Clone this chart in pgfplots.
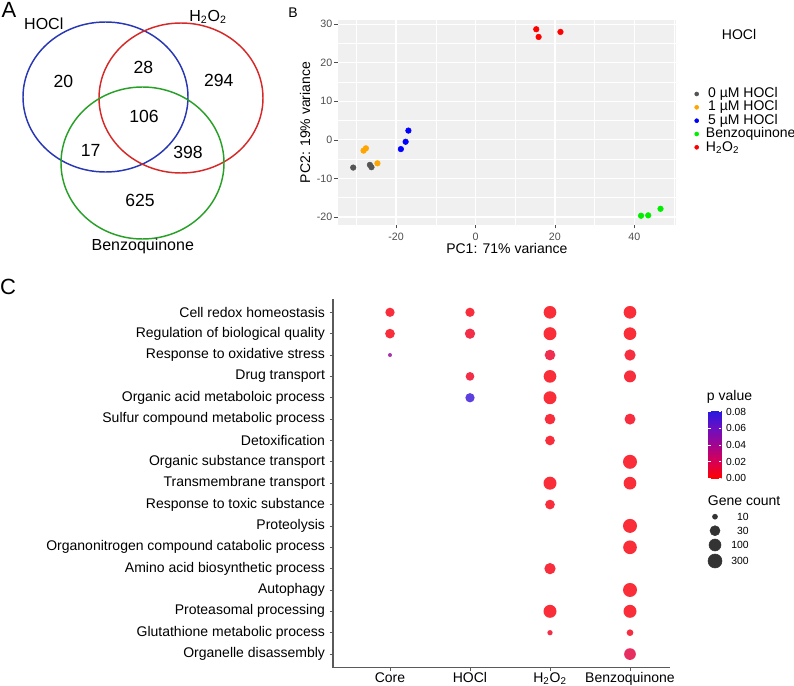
\documentclass[border=0pt]{standalone}
\usepackage{fontspec}
\setmainfont{Liberation Sans}
\usepackage{pgfplots}
\pgfplotsset{compat=1.18}
\usepackage{pgfplotstable}

\definecolor{vblue}{RGB}{40,55,180}
\definecolor{vred}{RGB}{215,40,40}
\definecolor{vgreen}{RGB}{40,160,40}
\definecolor{panelbg}{RGB}{240,240,240}
\definecolor{tickgrey}{RGB}{77,77,77}
\definecolor{pcagrey}{RGB}{85,85,85}
\definecolor{pcaorange}{RGB}{255,165,0}
\definecolor{pcagreen}{RGB}{0,238,0}
\definecolor{axisgrey}{RGB}{90,90,90}

\pgfplotsset{
  /pgf/number format/assume math mode=true,
  colormap={pval}{rgb255(0cm)=(255,0,0) rgb255(1cm)=(215,0,85) rgb255(2cm)=(160,5,145) rgb255(3cm)=(105,15,195) rgb255(4cm)=(35,25,225)},
}

% GO terms: x = group (1 Core, 2 HOCl, 3 H2O2, 4 Benzoquinone), y = 18 - row, p value, dot diameter (px)
\pgfplotstableread{
x y p d
1 17 0.004 9.3
1 16 0.004 9.7
1 15 0.045 4.0
2 17 0.004 9.3
2 16 0.008 10.3
2 14 0.008 8.7
2 13 0.075 9.3
3 17 0.003 12.7
3 16 0.003 13.0
3 15 0.010 10.7
3 14 0.003 12.7
3 13 0.003 13.0
3 12 0.004 10.7
3 11 0.004 9.7
3 9 0.003 13.0
3 8 0.004 9.7
3 5 0.004 11.3
3 3 0.003 13.0
3 2 0.008 5.3
4 17 0.003 12.7
4 16 0.003 12.7
4 15 0.005 11.3
4 14 0.004 12.0
4 12 0.005 11.0
4 10 0.003 14.0
4 9 0.003 12.7
4 7 0.003 14.0
4 6 0.003 13.7
4 4 0.003 14.0
4 3 0.003 13.0
4 2 0.006 6.7
4 1 0.015 11.7
}\godots

\begin{document}
\begin{tikzpicture}
% ---------- canvas in pixel units (A, legends, letters) ----------
\begin{axis}[name=canvas, at={(0,0)}, anchor=south west, scale only axis,
  width=595.5pt, height=514.5pt,
  xmin=0, xmax=794, ymin=0, ymax=686, y dir=reverse,
  hide axis, clip=false]
  % Venn
  \draw[vblue, line width=1.1pt] (105.5,97) ellipse [x radius=82.5, y radius=75];
  \draw[vred, line width=1.1pt] (181,98) ellipse [x radius=82, y radius=75];
  \draw[vgreen, line width=1.1pt] (142.5,163) ellipse [x radius=81.5, y radius=76];
  \begin{scope}[every node/.style={inner sep=0, font=\fontsize{13.2}{14}\selectfont}]
    \node at (63.3,81) {20};
    \node at (143.3,67.7) {28};
    \node at (218.7,80) {294};
    \node at (144,116.7) {106};
    \node at (90.7,150.7) {17};
    \node at (188,152.7) {398};
    \node at (140,200) {625};
  \end{scope}
  \begin{scope}[every node/.style={inner sep=0, font=\fontsize{12}{13}\selectfont}]
    \node at (43.8,23.3) {HOCl};
    \node at (208,16.7) {H\textsubscript{2}O\textsubscript{2}};
    \node at (142.8,246.7) {Benzoquinone};
  \end{scope}
  % panel letters
  \node[inner sep=0, font=\fontsize{16.5}{18}\selectfont] at (9,10) {A};
  \node[inner sep=0, font=\fontsize{10.5}{12}\selectfont] at (293,12.7) {B};
  \node[inner sep=0, font=\fontsize{16.5}{18}\selectfont] at (8,286.7) {C};
  % PCA legend
  \node[inner sep=0, anchor=west, font=\fontsize{10.5}{12}\selectfont] at (721.7,34) {HOCl};
  \addplot[only marks, mark=*, mark size=1.5pt, pcagrey] coordinates {(696.7,94)};
  \addplot[only marks, mark=*, mark size=1.5pt, pcaorange] coordinates {(696.7,107.3)};
  \addplot[only marks, mark=*, mark size=1.5pt, blue] coordinates {(696.7,120.7)};
  \addplot[only marks, mark=*, mark size=1.5pt, pcagreen] coordinates {(696.7,134)};
  \addplot[only marks, mark=*, mark size=1.5pt, red] coordinates {(696.7,147.3)};
  \begin{scope}[every node/.style={inner sep=0, anchor=west, font=\fontsize{10.5}{12}\selectfont}]
    \node at (704,94) {\ 0 µM HOCl};
    \node at (704,107.3) {\ 1 µM HOCl};
    \node at (704,120.7) {\ 5 µM HOCl};
    \node at (705.7,134) {Benzoquinone};
    \node at (705.7,147.3) {H\textsubscript{2}O\textsubscript{2}};
  \end{scope}
  % panel C legends
  \node[inner sep=0, anchor=west, font=\fontsize{10.5}{12}\selectfont] at (706.7,396.7) {p value};
  \node[inner sep=0, anchor=west, font=\fontsize{10.5}{12}\selectfont] at (707.7,501) {Gene count};
  \addplot[only marks, mark=*, mark size=1.9pt, black!80] coordinates {(715,516.7)};
  \addplot[only marks, mark=*, mark size=3.75pt, black!80] coordinates {(715,530.7)};
  \addplot[only marks, mark=*, mark size=4.5pt, black!80] coordinates {(715,545)};
  \addplot[only marks, mark=*, mark size=5.25pt, black!80] coordinates {(715,561)};
  \begin{scope}[every node/.style={inner sep=0, anchor=east, font=\fontsize{7.8}{9}\selectfont}]
    \node at (749,516.7) {10};
    \node at (749,530.7) {30};
    \node at (749,545) {100};
    \node at (749,561) {300};
  \end{scope}
\end{axis}

% ---------- B: PCA ----------
\begin{axis}[at={(253.3pt,345.75pt)}, anchor=south west, scale only axis,
  width=253.7pt, height=153.75pt,
  xmin=-34.7, xmax=50.5, ymin=-22.1, ymax=31.1,
  axis background/.style={fill=panelbg},
  axis line style={draw=none},
  xtick={-20,0,20,40}, ytick={-20,-10,0,10,20,30},
  minor xtick={-30,-10,10,30,50}, minor ytick={-15,-5,5,15,25},
  grid=both, major grid style={white, line width=0.9pt}, minor grid style={white, line width=0.45pt},
  tick align=outside, tick pos=left, major tick length=2.6pt, minor tick length=0pt,
  major tick style={tickgrey, line width=0.5pt},
  ticklabel style={font=\fontsize{8}{9}\selectfont, text=tickgrey},
  yticklabel shift=-2pt,
  xlabel={PC1: 71\% variance}, ylabel={PC2: 19\% variance},
  xlabel shift=-5pt, ylabel shift=-2pt,
  label style={font=\fontsize{10.5}{12}\selectfont},
]
  \addplot[only marks, mark=*, mark size=2.1pt, pcagrey] coordinates {(-30.8,-7.2) (-26.6,-6.5) (-26.2,-7.1)};
  \addplot[only marks, mark=*, mark size=2.1pt, pcaorange] coordinates {(-28.2,-2.8) (-27.6,-2.2) (-24.7,-6.1)};
  \addplot[only marks, mark=*, mark size=2.1pt, blue] coordinates {(-18.8,-2.4) (-17.6,-0.5) (-16.9,2.4)};
  \addplot[only marks, mark=*, mark size=2.1pt, red] coordinates {(15.3,28.7) (15.9,26.7) (21.4,28.0)};
  \addplot[only marks, mark=*, mark size=2.1pt, pcagreen] coordinates {(41.7,-19.7) (43.5,-19.6) (46.6,-17.9)};
\end{axis}

% ---------- C: GO dot plot ----------
\begin{axis}[at={(249.75pt,13.7pt)}, anchor=south west, scale only axis,
  width=252.75pt, height=276.5pt,
  xmin=0.2875, xmax=4.5, ymin=0.36, ymax=17.62,
  axis x line*=bottom, axis y line*=left,
  axis line style={draw=axisgrey, line width=0.8pt},
  xtick={1,2,3,4},
  xticklabels={Core,HOCl,H\textsubscript{2}O\textsubscript{2},Benzoquinone},
  ytick={1,...,17},
  yticklabels={Organelle disassembly,Glutathione metabolic process,Proteasomal processing,Autophagy,Amino acid biosynthetic process,Organonitrogen compound catabolic process,Proteolysis,Response to toxic substance,Transmembrane transport,Organic substance transport,Detoxification,Sulfur compound metabolic process,Organic acid metaboloic process,Drug transport,Response to oxidative stress,Regulation of biological quality,Cell redox homeostasis},
  tick align=outside, major tick length=2.5pt,
  major tick style={axisgrey, line width=0.5pt},
  ticklabel style={font=\fontsize{10.5}{12}\selectfont},
  xticklabel shift=-2.5pt,
  colormap name=pval, point meta min=0, point meta max=0.082,
  colorbar,
  colorbar style={
    at={(parent axis.south east)}, anchor=south west,
    xshift=20pt, yshift=142pt,
    width=10pt, height=51.2pt,
    ytick={0,0.02,0.04,0.06,0.08},
    scaled y ticks=false,
    /pgf/number format/fixed, /pgf/number format/fixed zerofill, /pgf/number format/precision=2,
    yticklabel style={font=\fontsize{7.7}{9}\selectfont},
    axis line style={draw=none},
    tick align=inside, major tick length=2pt,
    major tick style={white, line width=0.5pt},
  },
  clip=false,
]
  \addplot[scatter, only marks, mark=*, fill opacity=0.82, draw opacity=0,
    point meta=\thisrow{p},
    visualization depends on={\thisrow{d} \as \dd},
    scatter/@pre marker code/.append style={/tikz/mark size={0.375pt*\dd}},
  ] table[x=x, y=y] {\godots};
\end{axis}
\pgfresetboundingbox
\path (0,0) rectangle (595.5pt,514.5pt);
\end{tikzpicture}
\end{document}
